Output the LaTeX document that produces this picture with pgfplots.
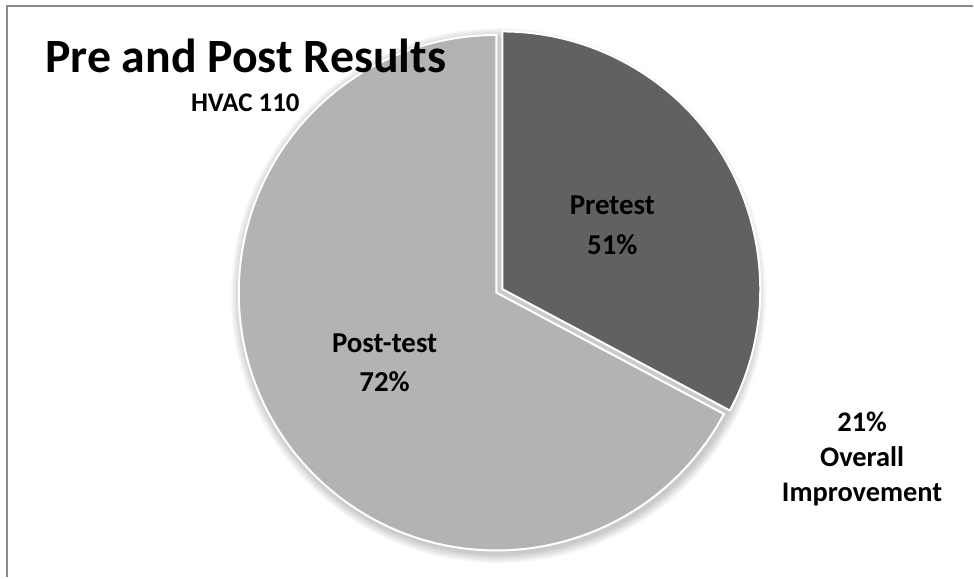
\documentclass[border=0pt]{standalone}
\usepackage{pgfplots}
\pgfplotsset{compat=1.18}
\usepackage{pgfplotstable}
\usepackage{fontspec}
\setmainfont{Carlito}
\definecolor{lightslice}{HTML}{B3B3B3}
\definecolor{darkslice}{HTML}{616161}
\definecolor{framegray}{HTML}{8A8A8A}

% share of the circle drawn for each slice (percent of 360 degrees)
\pgfplotstableread{
slice share
Pretest 32.8
Posttest 67.2
}\piedata
\pgfplotstablegetelem{0}{share}\of\piedata
\pgfmathsetmacro{\endA}{90-3.6*\pgfplotsretval}
\pgfmathsetmacro{\endB}{\endA+360}

\begin{document}
\begin{tikzpicture}
\begin{axis}[x=1bp, y=1bp, xmin=0, xmax=974, ymin=0, ymax=578,
  hide axis, clip=false, scale only axis]
\fill[white] (axis cs:0,0) rectangle (axis cs:974,578);
% frame
\draw[framegray, line width=2bp] (axis cs:7.5,0) -- (axis cs:7.5,571.5) -- (axis cs:974,571.5);
% soft shadow
\pgfplotsinvokeforeach{1,...,9}{
  \fill[black, opacity=0.022] (axis cs:499,282) circle[radius={(258+#1*1.1)*1bp}];
}
% Post-test slice
\filldraw[fill=lightslice, draw=white, line width=2bp]
  (axis cs:497,285) -- ++(90:258bp) arc[start angle=90, end angle=\endB, radius=258bp] -- cycle;
% Pretest slice (exploded)
\filldraw[fill=darkslice, draw=white, line width=2bp]
  (axis cs:503,288.5) -- ++(\endA:258bp) arc[start angle=\endA, end angle=90, radius=258bp] -- cycle;
% texts
\node[anchor=base west, font=\fontsize{48}{50}\selectfont\bfseries, inner sep=0] at (axis cs:45,505) {Pre and Post Results};
\node[anchor=base west, font=\fontsize{27}{30}\selectfont\bfseries, inner sep=0] at (axis cs:191,466) {HVAC 110};
\node[anchor=base, font=\fontsize{29}{30}\selectfont\bfseries, inner sep=0] at (axis cs:613,363) {Pretest};
\node[anchor=base, font=\fontsize{29}{30}\selectfont\bfseries, inner sep=0] at (axis cs:613,323) {51\%};
\node[anchor=base, font=\fontsize{29}{30}\selectfont\bfseries, inner sep=0] at (axis cs:385,225) {Post-test};
\node[anchor=base, font=\fontsize{29}{30}\selectfont\bfseries, inner sep=0] at (axis cs:385,186) {72\%};
\node[anchor=base, font=\fontsize{28.5}{30}\selectfont\bfseries, inner sep=0] at (axis cs:863,146) {21\%};
\node[anchor=base, font=\fontsize{28.5}{30}\selectfont\bfseries, inner sep=0] at (axis cs:863,111) {Overall};
\node[anchor=base, font=\fontsize{28.5}{30}\selectfont\bfseries, inner sep=0] at (axis cs:863,76) {Improvement};
\end{axis}
\end{tikzpicture}
\end{document}
